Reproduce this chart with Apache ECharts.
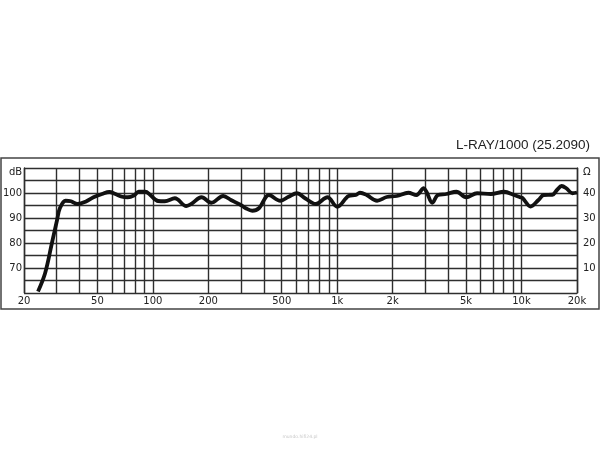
<!DOCTYPE html>
<html>
<head>
<meta charset="utf-8">
<script src="https://cdn.jsdelivr.net/npm/echarts@6/dist/echarts.min.js"></script>
<style>html,body{margin:0;padding:0;background:#fff;}#c{width:600px;height:450px;}</style>
</head>
<body>
<div id="c"></div>
<script>
const chartTitle = 'L-RAY/1000 (25.2090)';
const freqHz = [23.8, 26, 28.3, 30.2, 31.3, 33.6, 35.9, 39, 43.1, 47.6, 53, 58, 62.6, 68, 73, 78.8, 83.7, 90.9, 96.7, 106.8, 116, 131.6, 151.8, 161.5, 183.6, 207.4, 240.6, 265, 300, 319, 346, 376, 426, 491, 545, 604, 669, 764, 885, 1001, 1153, 1262, 1328, 1446, 1646, 1856, 2105, 2432, 2692, 2950, 3050, 3282, 3520, 3910, 4430, 5010, 5740, 6820, 8040, 9120, 9820, 10120, 11200, 12360, 13200, 14700, 15570, 16500, 17500, 18880, 20000];
const levelDb = [60.6, 67.9, 79.9, 89.2, 94.0, 96.9, 96.7, 95.6, 96.5, 98.3, 99.6, 100.4, 99.6, 98.5, 98.3, 99.0, 100.5, 100.5, 99.2, 96.8, 96.7, 97.9, 94.8, 95.6, 98.3, 96.1, 98.8, 97.2, 95.2, 93.9, 92.9, 93.9, 99.2, 96.9, 98.5, 99.9, 97.9, 95.6, 98.3, 94.5, 98.8, 99.2, 100.1, 99.2, 96.9, 98.4, 98.8, 100.1, 99.2, 101.9, 100.5, 96.1, 99.2, 99.6, 100.5, 98.3, 99.9, 99.6, 100.5, 99.2, 98.3, 98.0, 94.6, 97.2, 99.2, 99.3, 101.2, 102.8, 101.9, 99.9, 100.2];
const gridFreqs = [20, 30, 40, 50, 60, 70, 80, 90, 100, 200, 300, 400, 500, 600, 700, 800, 900, 1000, 2000, 3000, 4000, 5000, 6000, 7000, 8000, 9000, 10000, 20000];
const xTickValues = [20, 50, 100, 200, 500, 1000, 2000, 5000, 10000, 20000];
const xTickLabels = ['20', '50', '100', '200', '500', '1k', '2k', '5k', '10k', '20k'];
const leftTicks = [70, 80, 90, 100];
const rightTicks = [10, 20, 30, 40];
const leftUnit = 'dB';
const rightUnit = 'Ω';
const footer = 'mundo.hifi24.pl';

const GRID = '#2e2e2e';
const GW = 1.4;
const FONT = 'DejaVu Sans';

const curve = freqHz.map((f, i) => [f, levelDb[i]]);
const vLines = gridFreqs.map(f => {
  const k = xTickValues.indexOf(f);
  return {
    xAxis: f,
    label: k >= 0 ? { show: true, formatter: xTickLabels[k] } : { show: false }
  };
});

const chart = echarts.init(document.getElementById('c'), null, { renderer: 'canvas' });
chart.setOption({
  animation: false,
  backgroundColor: '#fff',
  title: {
    text: chartTitle, right: 5, top: 133,
    textStyle: { fontFamily: 'Liberation Sans', fontSize: 13.5, fontWeight: 'normal', color: '#222' }
  },
  graphic: [
    { type: 'rect', shape: { x: 1, y: 158, width: 598, height: 151 }, style: { fill: 'none', stroke: '#444', lineWidth: 1.5 }, silent: true },
    { type: 'text', left: 'center', top: 434, style: { text: footer, fontSize: 4.5, fill: '#c8c8c8', fontFamily: FONT }, silent: true }
  ],
  grid: { left: 22, right: 23, top: 168, bottom: 157, containLabel: false },
  xAxis: {
    type: 'log', logBase: 10, min: 20, max: 20000,
    axisLine: { show: false }, axisTick: { show: false }, axisLabel: { show: false }, splitLine: { show: false }
  },
  yAxis: [
    {
      type: 'value', min: 60, max: 110, interval: 5,
      axisLine: { show: true, lineStyle: { color: GRID, width: GW } },
      axisTick: { show: false },
      splitLine: { show: true, lineStyle: { color: GRID, width: GW } },
      axisLabel: {
        margin: 2, color: '#222', fontFamily: FONT, fontSize: 10,
        formatter: v => v === 110 ? '{u|' + leftUnit + '}' : (leftTicks.indexOf(v) >= 0 ? String(v) : ''),
        rich: { u: { fontFamily: FONT, fontSize: 10, color: '#222', padding: [9, 0, 0, 0] } }
      }
    },
    {
      type: 'value', position: 'right', min: 0, max: 50, interval: 5,
      axisLine: { show: true, lineStyle: { color: GRID, width: GW } },
      axisTick: { show: false },
      splitLine: { show: false },
      axisLabel: {
        margin: 6, color: '#222', fontFamily: FONT, fontSize: 10,
        formatter: v => v === 50 ? '{u|' + rightUnit + '}' : (rightTicks.indexOf(v) >= 0 ? String(v) : ''),
        rich: { u: { fontFamily: FONT, fontSize: 10, color: '#222', padding: [9, 0, 0, 0] } }
      }
    }
  ],
  series: [{
    type: 'line', z: 10, data: curve, smooth: 0.35, symbol: 'none',
    lineStyle: { color: '#111', width: 3.8 },
    markLine: {
      z: 1, silent: true, symbol: ['none', 'none'], animation: false,
      lineStyle: { color: GRID, width: GW, type: 'solid' },
      label: { position: 'start', distance: 3, color: '#222', fontFamily: FONT, fontSize: 10 },
      emphasis: { disabled: true },
      data: vLines
    }
  }]
});
</script>
</body>
</html>
